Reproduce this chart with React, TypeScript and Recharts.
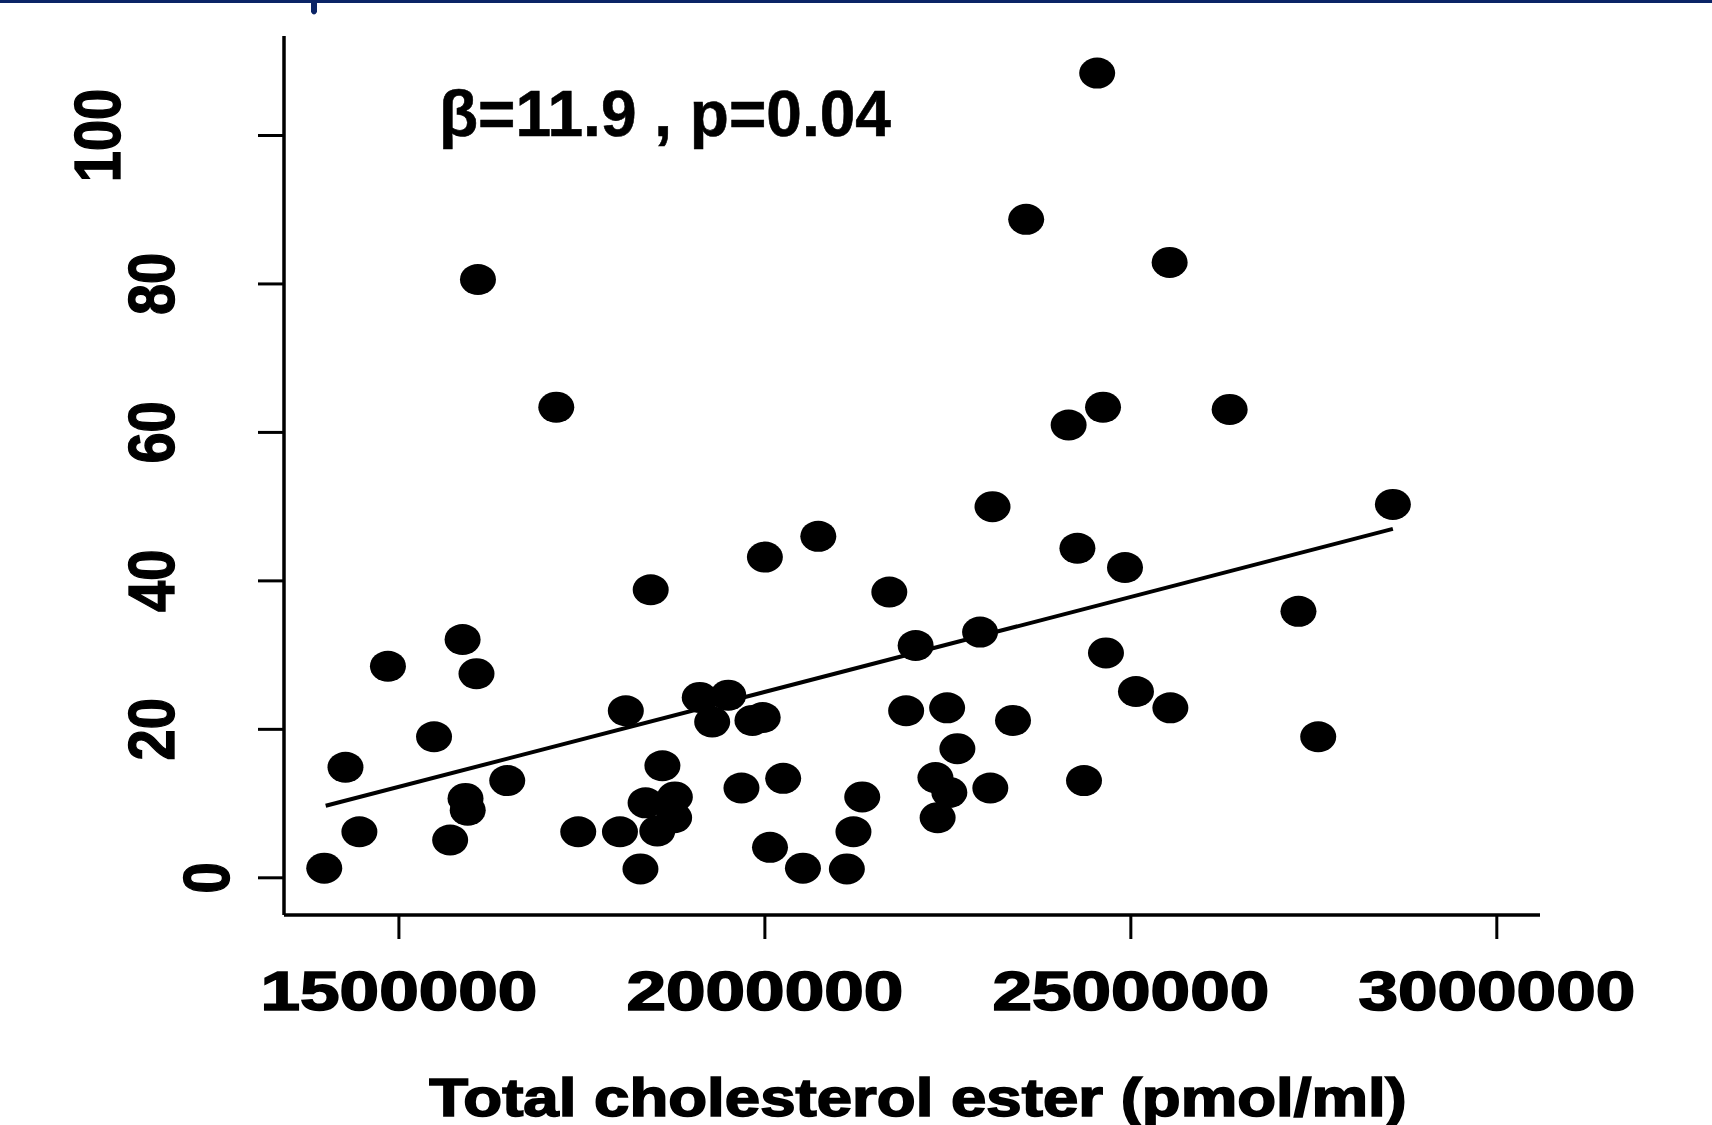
import React from "react";
import {
  ScatterChart,
  Scatter,
  XAxis,
  YAxis,
  ReferenceLine,
  Customized,
} from "recharts";

// ---- data ----
const cholesterolEster: number[] = [
  1398000, 1427000, 1446000, 1485000, 1548000, 1570000, 1587000, 1591000,
  1594000, 1606000, 1608000, 1648000, 1715000, 1745000, 1802000, 1810000,
  1830000, 1844000, 1837000, 1853000, 1860000, 1877000, 1876000, 1911000,
  1928000, 1950000, 1968000, 1983000, 1997000, 2000000, 2007000, 2025000,
  2052000, 2073000, 2112000, 2121000, 2133000, 2170000, 2193000, 2206000,
  2233000, 2236000, 2249000, 2252000, 2263000, 2294000, 2308000, 2311000,
  2339000, 2357000, 2415000, 2427000, 2436000, 2454000, 2462000, 2466000,
  2492000, 2507000, 2553000, 2554000, 2635000, 2729000, 2756000, 2858000,
];
const outcomeValues: number[] = [
  1.3, 14.9, 6.2, 28.5, 19.0, 5.1, 32.1, 10.7,
  9.1, 27.5, 80.6, 13.1, 63.4, 6.2, 6.2, 22.5,
  1.2, 38.8, 10.1, 6.3, 15.1, 10.9, 8.1, 24.3,
  21.0, 24.6, 12.1, 21.2, 21.6, 43.2, 4.1, 13.4,
  1.3, 46.0, 1.2, 6.2, 10.9, 38.5, 22.5, 31.3,
  13.5, 8.1, 22.9, 11.5, 17.4, 33.1, 12.1, 50.0,
  21.2, 88.7, 61.0, 44.4, 13.1, 108.4, 63.4, 30.3,
  41.8, 25.1, 82.9, 22.9, 63.1, 35.9, 19.0, 50.3,
];
const xTicks: number[] = [1500000, 2000000, 2500000, 3000000];
const yTicks: number[] = [0, 20, 40, 60, 80, 100];
const regressionStart = { x: 1400000, y: 9.7 };
const regressionEnd = { x: 2858000, y: 47.0 };
const statsText = "β=11.9 , p=0.04";
const xAxisTitle = "Total cholesterol ester (pmol/ml)";

const points = cholesterolEster.map((x, i) => ({ x, y: outcomeValues[i] }));

const FONT = "'Liberation Sans', Arial, Helvetica, sans-serif";

const Dot = (props: any) => {
  const { cx, cy } = props;
  if (cx == null || cy == null) return null;
  return <ellipse cx={cx} cy={cy} rx={18} ry={15.5} fill="#000" />;
};

const YTick = (props: any) => {
  const { y, payload } = props;
  const label = String(payload.value);
  const cx = 260 - 54.5 * label.length;
  return (
    <text
      transform={`translate(${cx},${y}) scale(1.15,1) rotate(-90)`}
      textAnchor="middle"
      dy="0.36em"
      fontFamily={FONT}
      fontWeight="bold"
      fontSize={56}
      fill="#000"
      stroke="#000"
      strokeWidth={1.2}
    >
      {label}
    </text>
  );
};

const XTick = (props: any) => {
  const { x, payload } = props;
  return (
    <text
      transform={`translate(${x},1010) scale(1.27,1)`}
      textAnchor="middle"
      fontFamily={FONT}
      fontWeight="bold"
      fontSize={56}
      fill="#000"
      stroke="#000"
      strokeWidth={1.6}
    >
      {String(payload.value)}
    </text>
  );
};

const Decorations = () => (
  <g>
    <rect x={0} y={0} width={1712} height={3} fill="#0b2466" />
    <path d="M311 0 L317 0 L317 12 Q314 17 311 12 Z" fill="#0b2466" />
    <text
      x={439}
      y={136}
      fontFamily={FONT}
      fontWeight="bold"
      fontSize={64}
      fill="#000"
      stroke="#000"
      strokeWidth={0.6}
    >
      {statsText}
    </text>
    <text
      transform="translate(918,1116) scale(1.2,1)"
      textAnchor="middle"
      fontFamily={FONT}
      fontWeight="bold"
      fontSize={53}
      fill="#000"
      stroke="#000"
      strokeWidth={1.6}
    >
      {xAxisTitle}
    </text>
  </g>
);

export default function App() {
  return (
    <div style={{ position: "absolute", left: 0, top: 0, background: "#fff" }}>
      <ScatterChart
        width={1712}
        height={1125}
        margin={{ top: 36, right: 172, left: 0, bottom: 0 }}
      >
        <XAxis
          type="number"
          dataKey="x"
          domain={[1343000, 3059000]}
          allowDataOverflow
          ticks={xTicks}
          interval={0}
          height={210}
          tickSize={24}
          axisLine={{ stroke: "#000", strokeWidth: 3.5 }}
          tickLine={{ stroke: "#000", strokeWidth: 3 }}
          tick={<XTick />}
        />
        <YAxis
          type="number"
          dataKey="y"
          domain={[-5.01, 113.4]}
          allowDataOverflow
          ticks={yTicks}
          interval={0}
          width={284}
          tickSize={26}
          axisLine={{ stroke: "#000", strokeWidth: 3.5 }}
          tickLine={{ stroke: "#000", strokeWidth: 3 }}
          tick={<YTick />}
        />
        <ReferenceLine
          segment={[regressionStart, regressionEnd]}
          stroke="#000"
          strokeWidth={4}
          ifOverflow="visible"
        />
        <Scatter
          data={points}
          shape={<Dot />}
          isAnimationActive={false}
        />
        <Customized component={Decorations} />
      </ScatterChart>
    </div>
  );
}
